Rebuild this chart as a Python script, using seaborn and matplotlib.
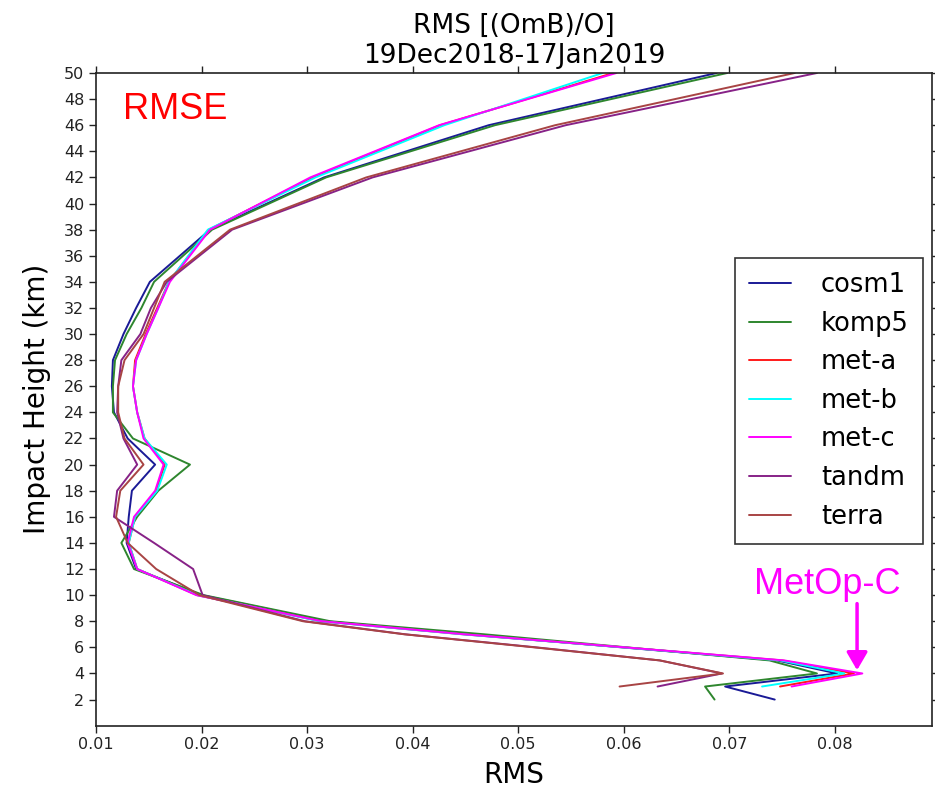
import numpy as np
import pandas as pd
import matplotlib
matplotlib.use("Agg")
import matplotlib.pyplot as plt
import seaborn as sns

# impact heights (km) and RMS of (OmB)/O per mission
heights = [2, 3, 4, 5, 6, 7, 8, 10, 12, 14, 16, 18, 20, 22, 24, 26, 28, 30, 32, 34, 38, 42, 46, 50]
nan = np.nan

cosm1 = [0.0743, 0.0696, 0.0802, 0.0745, 0.0598, 0.0452, 0.0318, 0.0200, 0.0138, 0.0129, 0.0131, 0.0134,
         0.0156, 0.0130, 0.0117, 0.0115, 0.0116, 0.0126, 0.0138, 0.0151, 0.0208, 0.0316, 0.0472, 0.0688]
komp5 = [0.0686, 0.0677, 0.0783, 0.0738, 0.0603, 0.0468, 0.0322, 0.0202, 0.0136, 0.0124, 0.0139, 0.0159,
         0.0189, 0.0135, 0.0116, 0.0116, 0.0118, 0.0129, 0.0143, 0.0155, 0.0210, 0.0318, 0.0478, 0.0698]
met_a = [nan, 0.0748, 0.0818, 0.0750, 0.0600, 0.0448, 0.0313, 0.0196, 0.0139, 0.0131, 0.0137, 0.0157,
         0.0165, 0.0146, 0.0139, 0.0135, 0.0137, 0.0147, 0.0158, 0.0169, 0.0207, 0.0305, 0.0426, 0.0590]
met_b = [nan, 0.0731, 0.0809, 0.0748, 0.0599, 0.0447, 0.0312, 0.0196, 0.0139, 0.0131, 0.0137, 0.0158,
         0.0167, 0.0146, 0.0139, 0.0135, 0.0138, 0.0148, 0.0159, 0.0169, 0.0206, 0.0308, 0.0430, 0.0580]
met_c = [nan, 0.0759, 0.0826, 0.0752, 0.0601, 0.0449, 0.0314, 0.0195, 0.0139, 0.0130, 0.0136, 0.0156,
         0.0164, 0.0145, 0.0139, 0.0135, 0.0138, 0.0148, 0.0159, 0.0170, 0.0208, 0.0303, 0.0425, 0.0593]
tandm = [nan, 0.0632, 0.0693, 0.0634, 0.0517, 0.0393, 0.0298, 0.0201, 0.0192, 0.0155, 0.0117, 0.0120,
         0.0139, 0.0126, 0.0120, 0.0121, 0.0124, 0.0142, 0.0152, 0.0167, 0.0229, 0.0362, 0.0545, 0.0783]
terra = [nan, 0.0596, 0.0694, 0.0634, 0.0515, 0.0392, 0.0296, 0.0198, 0.0157, 0.0130, 0.0119, 0.0123,
         0.0145, 0.0127, 0.0121, 0.0121, 0.0127, 0.0145, 0.0155, 0.0165, 0.0227, 0.0356, 0.0535, 0.0762]

sats = ['cosm1', 'komp5', 'met-a', 'met-b', 'met-c', 'tandm', 'terra']
series = [cosm1, komp5, met_a, met_b, met_c, tandm, terra]
colors = ['#1a1a96', '#2e862e', '#ff1a1a', '#00ffff', '#ff00ff', '#872287', '#a84444']

rows = []
for s, vals in zip(sats, series):
    for h, v in zip(heights, vals):
        rows.append({'sat': s, 'height': h, 'rms': v})
df = pd.DataFrame(rows).dropna()

sns.set_style("ticks")
plt.rcParams['font.family'] = ['DejaVu Sans']
plt.rcParams['text.color'] = 'black'
plt.rcParams['axes.labelcolor'] = 'black'

fig = plt.figure(figsize=(9.35, 7.95), dpi=100)
ax = fig.add_axes([0.1027, 0.0872, 0.8941, 0.821])

sns.lineplot(data=df, x='rms', y='height', hue='sat', hue_order=sats,
             palette=dict(zip(sats, colors)), sort=False, estimator=None,
             linewidth=1.4, ax=ax)

ax.set_xlim(0.01, 0.0892)
ax.set_ylim(0, 50)
ax.set_xticks([0.01, 0.02, 0.03, 0.04, 0.05, 0.06, 0.07, 0.08])
ax.set_xticklabels(['0.01', '0.02', '0.03', '0.04', '0.05', '0.06', '0.07', '0.08'])
ax.set_yticks(range(2, 51, 2))
ax.tick_params(direction='out', length=5, width=1, labelsize=11.5,
               top=True, right=True, colors='#222222', labelcolor='#222222')
for sp in ax.spines.values():
    sp.set_linewidth(1.2)
    sp.set_color('#222222')

ax.set_xlabel('RMS', fontsize=20, labelpad=6, color='black')
ax.set_ylabel('Impact Height (km)', fontsize=20, labelpad=9, color='black')
ax.set_title('RMS [(OmB)/O]\n19Dec2018-17Jan2019', fontsize=19, pad=7,
             linespacing=1.2, color='black')

handles, labels = ax.get_legend_handles_labels()
leg = ax.legend(handles, labels, loc='upper left', bbox_to_anchor=(0.764, 0.7166),
                borderaxespad=0, fontsize=18.5, frameon=True, fancybox=False,
                edgecolor='black', handlelength=1.65, handletextpad=1.15,
                labelspacing=0.49, borderpad=0.55)
leg.get_frame().set_linewidth(1.2)
for t in leg.get_texts():
    t.set_color('black')
for line in leg.get_lines():
    line.set_linewidth(1.4)

ax.text(0.01256, 47.2, 'RMSE', color='red', fontsize=26,
        family='Liberation Sans', va='center', ha='left')
ax.text(0.0793, 10.8, 'MetOp-C', color='magenta', fontsize=26,
        family='Liberation Sans', va='center', ha='center')
ax.annotate('', xy=(0.0821, 4.25), xytext=(0.0821, 9.35),
            arrowprops=dict(arrowstyle='-|>,head_length=0.6,head_width=0.35',
                            color='magenta', lw=2.5, mutation_scale=18,
                            shrinkA=0, shrinkB=0))

fig.savefig('out.png', dpi=100)
